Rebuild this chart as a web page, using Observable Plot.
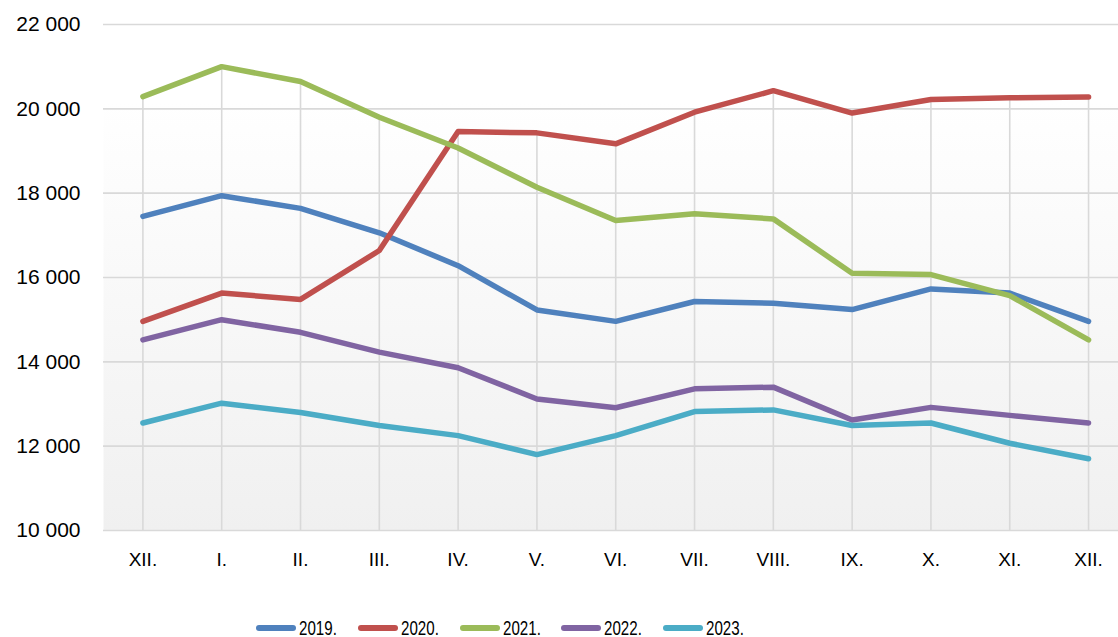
<!DOCTYPE html>
<html>
<head>
<meta charset="utf-8">
<script src="https://cdn.jsdelivr.net/npm/d3@7"></script>
<script src="https://cdn.jsdelivr.net/npm/@observablehq/plot@0.6"></script>
<style>
  html, body { margin: 0; padding: 0; background: #fff; overflow: hidden; }
  #chart svg { display: block; }
  #legend { position: relative; height: 47px; font-family: "Liberation Sans", Arial, sans-serif; font-size: 21px; color: #000; }
  .item { position: absolute; top: 29px; display: flex; align-items: center; height: 18px; }
  .item span { display: inline-block; margin-left: 2px; line-height: 18px; transform: scaleX(0.72); transform-origin: left center; }
</style>
</head>
<body>
<div id="chart"></div>
<div id="legend"></div>
<script>
const months = ["XII.", "I.", "II.", "III.", "IV.", "V.", "VI.", "VII.", "VIII.", "IX.", "X.", "XI.", "XII."];
const years = ["2019.", "2020.", "2021.", "2022.", "2023."];
const colors = ["#4f81bd", "#c0504d", "#9bbb59", "#8064a2", "#4bacc6"];
const v2019 = [17450, 17940, 17640, 17060, 16280, 15230, 14960, 15430, 15390, 15240, 15730, 15630, 14960];
const v2020 = [14960, 15630, 15480, 16640, 19460, 19430, 19170, 19920, 20430, 19900, 20220, 20260, 20280];
const v2021 = [20290, 21000, 20650, 19800, 19070, 18140, 17350, 17510, 17390, 16100, 16070, 15570, 14520];
const v2022 = [14520, 15000, 14700, 14230, 13860, 13120, 12910, 13360, 13400, 12620, 12920, 12730, 12550];
const v2023 = [12550, 13020, 12800, 12490, 12250, 11800, 12250, 12820, 12860, 12490, 12550, 12070, 11700];
const yTicks = [10000, 12000, 14000, 16000, 18000, 20000, 22000];

const series = [v2019, v2020, v2021, v2022, v2023];
const data = [];
series.forEach((vals, s) => vals.forEach((v, i) => data.push({year: years[s], i, v})));
const maxes = months.map((m, i) => ({i, v: d3.max(series, vals => vals[i])}));

const fmt = v => d3.format(",")(v).replace(/,/g, " ");

const chart = Plot.plot({
  width: 1118,
  height: 590,
  marginLeft: 103,
  marginRight: 0,
  marginTop: 24,
  marginBottom: 60,
  style: {fontFamily: "Liberation Sans, Arial, sans-serif", background: "#fff"},
  x: {domain: [-0.5, 12.38], ticks: d3.range(months.length), tickFormat: i => months[i], label: null},
  y: {domain: [10000, 22000], ticks: yTicks, tickFormat: fmt, label: null},
  color: {domain: years, range: colors},
  marks: [
    Plot.frame({fill: "url(#plotbg)", stroke: null}),
    Plot.ruleY(yTicks, {stroke: "#d9d9d9", strokeWidth: 1.6}),
    Plot.ruleX(maxes, {x: "i", y1: 10000, y2: "v", stroke: "#d9d9d9", strokeWidth: 1.6}),
    Plot.line(data, {x: "i", y: "v", z: "year", stroke: "year", strokeWidth: 5.5, strokeLinecap: "round", strokeLinejoin: "round"}),
    Plot.axisX({ticks: d3.range(months.length), tickFormat: i => months[i], tickSize: 0, tickPadding: 22, fontSize: 19, color: "#000", label: null}),
    Plot.axisY({ticks: yTicks, tickFormat: fmt, tickSize: 0, tickPadding: 23, fontSize: 21, color: "#000", label: null})
  ]
});

const svg = d3.select(chart);
const defs = svg.insert("defs", ":first-child");
const g = defs.append("linearGradient").attr("id", "plotbg").attr("x1", 0).attr("y1", 0).attr("x2", 0).attr("y2", 1);
g.append("stop").attr("offset", "0%").attr("stop-color", "#ffffff");
g.append("stop").attr("offset", "15%").attr("stop-color", "#ffffff");
g.append("stop").attr("offset", "100%").attr("stop-color", "#f0f0f0");
document.getElementById("chart").appendChild(chart);

const legend = d3.select("#legend");
years.forEach((y, k) => {
  const it = legend.append("div").attr("class", "item").style("left", (255 + k * 101.75) + "px");
  const s = it.append("svg").attr("width", 42).attr("height", 10);
  s.append("line").attr("x1", 4).attr("x2", 38).attr("y1", 5).attr("y2", 5)
    .attr("stroke", colors[k]).attr("stroke-width", 6).attr("stroke-linecap", "round");
  it.append("span").text(y);
});
</script>
</body>
</html>
